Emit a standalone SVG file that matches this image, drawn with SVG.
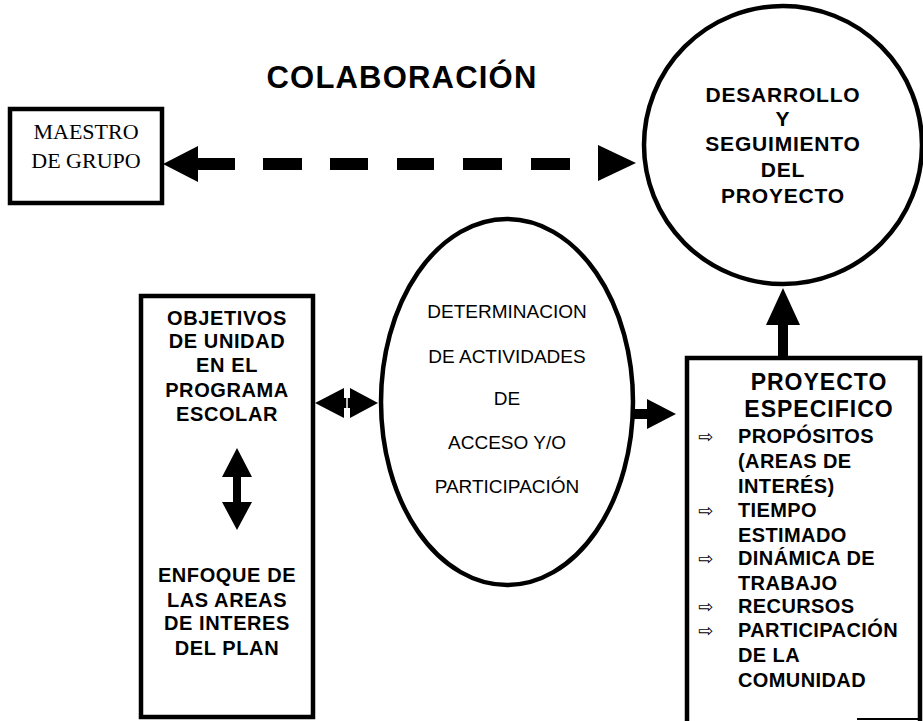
<svg xmlns="http://www.w3.org/2000/svg" width="923" height="721" viewBox="0 0 923 721">
<style>
.shape{fill:#fff;stroke:#000;stroke-width:4.5}
.b{font-family:"Liberation Sans",Arial,sans-serif;font-weight:bold;fill:#000;text-anchor:middle}
.r{font-family:"Liberation Sans",Arial,sans-serif;fill:#000;text-anchor:middle;font-size:19px}
.s{font-family:"Liberation Serif","Times New Roman",serif;fill:#000;text-anchor:middle;font-size:22px}
.lb{font-size:20px;letter-spacing:0.6px}
.cb{font-size:21px;letter-spacing:0.8px}
.item{font-family:"Liberation Sans",Arial,sans-serif;font-weight:bold;fill:#000;font-size:20px;letter-spacing:0.4px}
.bul{font-family:"DejaVu Sans",sans-serif;fill:#000;font-size:18px}
.ar{fill:#000;stroke:none}
</style>
<rect width="923" height="721" fill="#fff"/>
<text class="b" x="402" y="88" font-size="31" letter-spacing="1.2">COLABORACIÓN</text>

<g id="maestro">
<rect class="shape" x="10" y="109" width="152" height="94"/>
<text class="s" x="86" y="139">MAESTRO</text>
<text class="s" x="86" y="168">DE GRUPO</text>
</g>

<g id="desarrollo">
<circle class="shape" cx="783" cy="145" r="139"/>
<text class="b cb" x="783" y="102">DESARROLLO</text>
<text class="b cb" x="783" y="126">Y</text>
<text class="b cb" x="783" y="151">SEGUIMIENTO</text>
<text class="b cb" x="783" y="177">DEL</text>
<text class="b cb" x="783" y="203">PROYECTO</text>
</g>

<g id="objetivos">
<rect class="shape" x="141" y="296" width="172" height="421"/>
<text class="b lb" x="227" y="325">OBJETIVOS</text>
<text class="b lb" x="227" y="348">DE UNIDAD</text>
<text class="b lb" x="227" y="372">EN EL</text>
<text class="b lb" x="227" y="397">PROGRAMA</text>
<text class="b lb" x="227" y="421">ESCOLAR</text>
<path class="ar" d="M237 448 L252 477 L241 477 L241 502 L252 502 L237 530 L222 502 L233 502 L233 477 L222 477 Z"/>
<text class="b lb" x="227" y="582">ENFOQUE DE</text>
<text class="b lb" x="227" y="607">LAS AREAS</text>
<text class="b lb" x="227" y="630">DE INTERES</text>
<text class="b lb" x="227" y="655">DEL PLAN</text>
</g>

<g id="determinacion">
<ellipse class="shape" cx="507" cy="402" rx="126" ry="183"/>
<text class="r" x="507" y="318">DETERMINACION</text>
<text class="r" x="507" y="363">DE ACTIVIDADES</text>
<text class="r" x="507" y="405">DE</text>
<text class="r" x="507" y="449">ACCESO Y/O</text>
<text class="r" x="507" y="493">PARTICIPACIÓN</text>
</g>

<g id="proyecto">
<path d="M687 725 L687 358 L920 358 L920 725" fill="#fff" stroke="#000" stroke-width="4.5"/>
<line x1="857" y1="719" x2="920" y2="719" stroke="#000" stroke-width="2"/>
<text class="b" x="819" y="390" font-size="23" letter-spacing="1">PROYECTO</text>
<text class="b" x="819" y="417" font-size="23" letter-spacing="1">ESPECIFICO</text>
<text class="bul" x="698" y="443">⇨</text>
<text class="item" x="738" y="443">PROPÓSITOS</text>
<text class="item" x="738" y="468">(AREAS DE</text>
<text class="item" x="738" y="493">INTERÉS)</text>
<text class="bul" x="698" y="517">⇨</text>
<text class="item" x="738" y="517">TIEMPO</text>
<text class="item" x="738" y="542">ESTIMADO</text>
<text class="bul" x="698" y="565">⇨</text>
<text class="item" x="738" y="565">DINÁMICA DE</text>
<text class="item" x="738" y="590">TRABAJO</text>
<text class="bul" x="698" y="613">⇨</text>
<text class="item" x="738" y="613">RECURSOS</text>
<text class="bul" x="698" y="637">⇨</text>
<text class="item" x="738" y="637">PARTICIPACIÓN</text>
<text class="item" x="738" y="662">DE LA</text>
<text class="item" x="738" y="687">COMUNIDAD</text>
</g>

<g id="connectors">
<path class="ar" d="M163 164 L198 146 L198 182 Z"/>
<rect class="ar" x="197" y="158" width="38" height="12"/>
<rect class="ar" x="263" y="158" width="39" height="12"/>
<rect class="ar" x="330" y="158" width="38" height="12"/>
<rect class="ar" x="397" y="158" width="37" height="12"/>
<rect class="ar" x="463" y="158" width="39" height="12"/>
<rect class="ar" x="531" y="158" width="39" height="12"/>
<path class="ar" d="M636 163 L598 145 L598 181 Z"/>
<path class="ar" d="M315 403 L344 388 L344 418 Z"/>
<rect class="ar" x="343" y="398" width="8" height="10"/>
<path class="ar" d="M378 403 L350 388 L350 418 Z"/>
<line x1="347" y1="392" x2="347" y2="414" stroke="#fff" stroke-width="1.5"/>
<rect class="ar" x="632" y="409" width="17" height="10"/>
<path class="ar" d="M676 414 L647 399 L647 429 Z"/>
<rect class="ar" x="778" y="323" width="10" height="36"/>
<path class="ar" d="M783 288 L766 325 L800 325 Z"/>
</g>
</svg>
